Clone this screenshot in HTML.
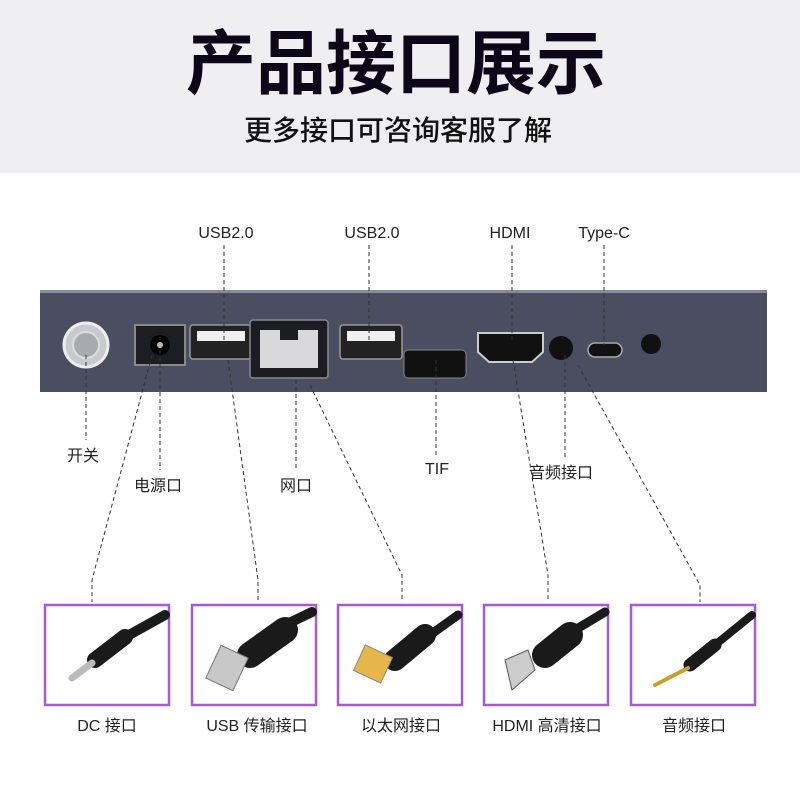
<!DOCTYPE html>
<html><head><meta charset="utf-8"><style>
html,body{margin:0;padding:0;width:800px;height:800px;overflow:hidden;background:#fff;font-family:"Liberation Sans","Noto Sans CJK SC",sans-serif}
</style></head><body>
<svg width="800" height="800" viewBox="0 0 800 800" xmlns="http://www.w3.org/2000/svg" font-family="Liberation Sans, Noto Sans CJK SC, sans-serif">
<rect x="0" y="0" width="800" height="173" fill="#efeff1"/>
<text x="396" y="88" font-size="70" font-weight="bold" text-anchor="middle" fill="#0b0718" font-family="Noto Sans CJK SC, sans-serif">产品接口展示</text>
<text x="398" y="140" font-size="28" font-weight="500" text-anchor="middle" fill="#111" font-family="Noto Sans CJK SC, sans-serif">更多接口可咨询客服了解</text>

<g font-size="16" fill="#222" text-anchor="middle">
<text x="226" y="238">USB2.0</text>
<text x="372" y="238">USB2.0</text>
<text x="510" y="238">HDMI</text>
<text x="604" y="238">Type-C</text>
</g>

<rect x="40" y="290" width="727" height="102" fill="#4b4e61"/>
<rect x="40" y="290" width="727" height="3" fill="#8a8c99"/>
<circle cx="86" cy="345" r="22" fill="#c9cacf" stroke="#eee" stroke-width="3"/>
<circle cx="86" cy="345" r="13" fill="#a9aab0" stroke="#ddd" stroke-width="2"/>
<rect x="135" y="325" width="50" height="40" fill="#1d1e22" stroke="#888" stroke-width="2"/>
<circle cx="160" cy="345" r="10" fill="#000"/>
<circle cx="160" cy="345" r="3" fill="#bbb"/>
<rect x="190" y="325" width="62" height="34" rx="3" fill="#222" stroke="#999" stroke-width="1.5"/>
<rect x="197" y="331" width="48" height="10" fill="#eee"/>
<rect x="250" y="320" width="78" height="58" rx="3" fill="#1c1d22" stroke="#888" stroke-width="1.5"/>
<rect x="260" y="330" width="58" height="38" fill="#d9d9dc"/>
<rect x="280" y="328" width="18" height="12" fill="#1c1d22"/>
<rect x="340" y="325" width="62" height="34" rx="3" fill="#222" stroke="#999" stroke-width="1.5"/>
<rect x="347" y="331" width="48" height="10" fill="#eee"/>
<rect x="404" y="350" width="62" height="28" rx="4" fill="#111" stroke="#888" stroke-width="1"/>
<path d="M478 333 H543 V352 L532 362 H489 L478 352 Z" fill="#111" stroke="#ccc" stroke-width="2"/>
<circle cx="561" cy="348" r="12" fill="#111"/>
<rect x="588" y="343" width="34" height="14" rx="7" fill="#111" stroke="#aaa" stroke-width="1.5"/>
<circle cx="651" cy="344" r="10" fill="#111"/>

<g stroke="#333" stroke-width="1" stroke-dasharray="4,3" fill="none">
<line x1="224" y1="245" x2="224" y2="340"/>
<line x1="369" y1="245" x2="369" y2="340"/>
<line x1="512" y1="245" x2="512" y2="340"/>
<line x1="604" y1="245" x2="604" y2="345"/>
<line x1="86" y1="355" x2="86" y2="440"/>
<line x1="160" y1="350" x2="160" y2="470"/>
<line x1="296" y1="380" x2="296" y2="470"/>
<line x1="436" y1="360" x2="436" y2="455"/>
<line x1="565" y1="355" x2="565" y2="458"/>
<polyline points="152,355 92,580 92,602"/>
<polyline points="228,360 258,580 258,602"/>
<polyline points="310,385 402,575 402,602"/>
<polyline points="513,360 548,575 548,602"/>
<polyline points="578,365 700,585 700,602"/>
</g>

<g font-size="16" fill="#222" font-family="Noto Sans CJK SC, sans-serif">
<text x="67" y="461">开关</text>
<text x="134" y="491">电源口</text>
<text x="280" y="491">网口</text>
<text x="425" y="474" font-family="Liberation Sans, sans-serif">TIF</text>
<text x="529" y="478">音频接口</text>
</g>

<g fill="#fff" stroke="#a55ad8" stroke-width="2.5">
<rect x="45" y="605" width="124" height="100"/>
<rect x="192" y="605" width="124" height="100"/>
<rect x="338" y="605" width="124" height="100"/>
<rect x="484" y="605" width="124" height="100"/>
<rect x="631" y="605" width="124" height="100"/>
</g>
<g stroke="#1a1a1a" stroke-linecap="round" fill="none">
<line x1="165" y1="615" x2="120" y2="640" stroke-width="10"/>
<line x1="125" y1="637" x2="95" y2="660" stroke-width="16"/>
<line x1="92" y1="663" x2="72" y2="678" stroke-width="7" stroke="#bbb"/>
<line x1="312" y1="612" x2="285" y2="625" stroke-width="10"/>
<line x1="285" y1="630" x2="250" y2="655" stroke-width="26"/>
<line x1="458" y1="615" x2="430" y2="635" stroke-width="9"/>
<line x1="425" y1="635" x2="395" y2="660" stroke-width="22"/>
<line x1="605" y1="612" x2="575" y2="630" stroke-width="9"/>
<line x1="570" y1="635" x2="545" y2="655" stroke-width="26"/>
<line x1="752" y1="615" x2="715" y2="645" stroke-width="8"/>
<line x1="715" y1="645" x2="690" y2="665" stroke-width="13"/>
<line x1="688" y1="668" x2="655" y2="685" stroke-width="4" stroke="#c9a030"/>
</g>
<rect x="212" y="650" width="30" height="36" fill="#c8c8c8" stroke="#777" transform="rotate(25 227 668)"/>
<rect x="358" y="650" width="30" height="28" fill="#e7b64a" stroke="#888" transform="rotate(25 373 664)"/>
<path d="M505 660 L528 650 L535 670 L512 690 Z" fill="#ccc" stroke="#555"/>

<g font-size="16" fill="#222" text-anchor="middle" font-family="Liberation Sans, Noto Sans CJK SC, sans-serif">
<text x="107" y="731">DC 接口</text>
<text x="257" y="731">USB 传输接口</text>
<text x="401" y="731">以太网接口</text>
<text x="547" y="731">HDMI 高清接口</text>
<text x="694" y="731">音频接口</text>
</g>
</svg>
</body></html>
